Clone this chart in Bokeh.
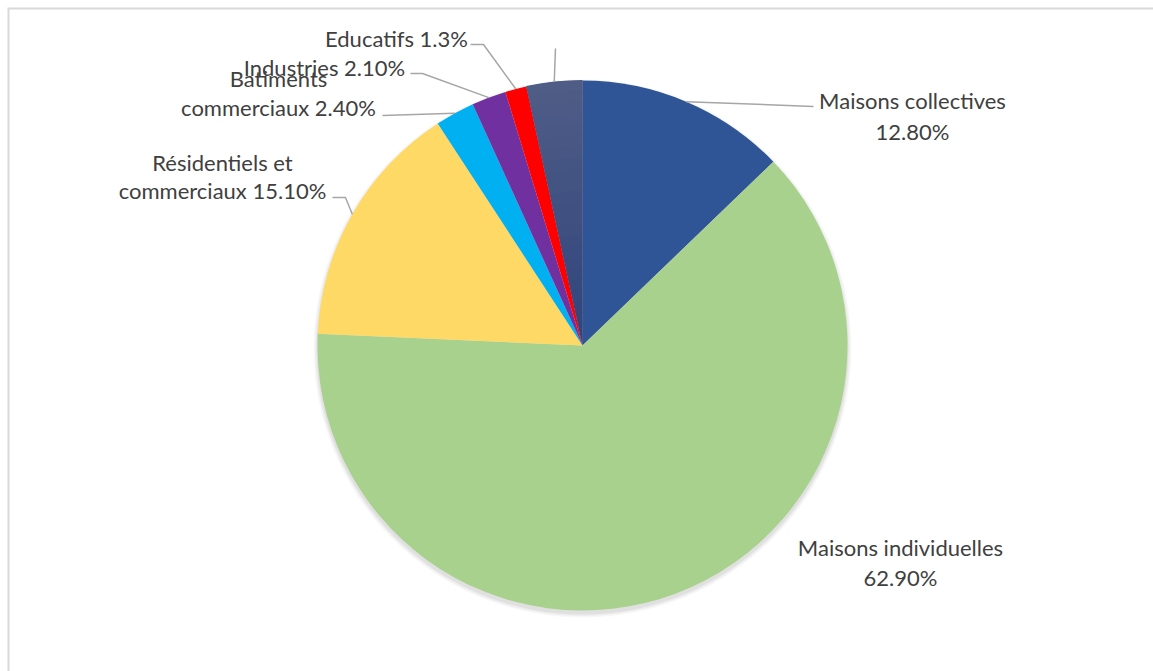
import math
from bokeh.plotting import figure
from bokeh.models import Range1d, ColumnDataSource
from bokeh.core.properties import value
from bokeh.embed import file_html
from bokeh.resources import INLINE

# ---- data ----
categories = ["Maisons collectives", "Maisons individuelles", "Résidentiels et commerciaux",
              "Batiments commerciaux", "Industries", "Educatifs", ""]
shares = [12.80, 62.90, 15.10, 2.40, 2.10, 1.30, 3.40]
label_lines = [["Maisons collectives", "12.80%"],
               ["Maisons individuelles", "62.90%"],
               ["Résidentiels et", "commerciaux 15.10%"],
               ["Batiments", "commerciaux 2.40%"],
               ["Industries 2.10%"],
               ["Educatifs 1.3%"],
               []]
colors = ["#2F5597", "#A9D18E", "#FFD966", "#00B0F0", "#7030A0", "#FF0000", "#3E5080"]

W, H = 1153, 671
FONT = "Lato"
FS = "22px"
TXT = "#404040"
LEAD = "#A6A6A6"


def px(x):
    return x


def py(y):
    return H - y


p = figure(width=W, height=H, output_backend="svg", toolbar_location=None,
           x_range=Range1d(0, W), y_range=Range1d(0, H), min_border=0)
p.axis.visible = False
p.grid.visible = False
p.outline_line_color = None
p.background_fill_color = "white"
p.border_fill_color = "white"

# chart frame (top and left edges visible)
p.segment(x0=[px(7), px(8)], y0=[py(8), py(8)], x1=[px(1153), px(8)], y1=[py(8), py(671)],
          line_color="#D9D9D9", line_width=2)

cx, cy, R = px(582), py(345), 265

# soft shadow
for i, a in enumerate([0.03, 0.04, 0.05]):
    p.circle(x=[cx], y=[cy - 3], radius=R + 4 - i * 1.5, fill_color="black",
             fill_alpha=a, line_color=None)

total = sum(shares)
starts, ends, mids = [], [], []
cum = 0.0
for s in shares:
    a0 = math.pi / 2 - 2 * math.pi * cum / total
    cum += s
    a1 = math.pi / 2 - 2 * math.pi * cum / total
    starts.append(a0)
    ends.append(a1)
    mids.append((a0 + a1) / 2)

src = ColumnDataSource(dict(start=starts, end=ends, color=colors, cat=categories))
p.wedge(x=cx, y=cy, radius=R, start_angle="start", end_angle="end", direction="clock",
        fill_color="color", line_color=None, source=src)

# gradient-like shading on the last slice (lighter towards the top)
last = len(shares) - 1
c0 = (0x30, 0x45, 0x7C)
c1 = (0x4F, 0x5C, 0x86)
N = 24
for k in range(N):
    t = (k + 0.5) / N
    rgb = tuple(int(round(c0[j] + (c1[j] - c0[j]) * t)) for j in range(3))
    col = "#%02X%02X%02X" % rgb
    p.annular_wedge(x=cx, y=cy, inner_radius=R * k / N, outer_radius=R * (k + 1) / N + 0.6,
                    start_angle=starts[last], end_angle=ends[last], direction="clock",
                    fill_color=col, line_color=None)


def edge(i):
    a = mids[i]
    return cx + R * math.cos(a), cy + R * math.sin(a)


# label layout (page px): center x, line y's, leader path ending at slice edge
layout = {
    0: (912, [100, 131], [(813, 106)]),
    1: (900, [547, 577], None),
    2: (222, [162, 190], [(332, 197), (345, 197)]),
    3: (278, [78, 107], [(382, 115)]),
    4: (324, [67], [(410, 73), (422, 73)]),
    5: (396, [38], [(470, 44), (483, 44)]),
    6: (None, [], [(555, 48)]),
}

for i in range(len(shares)):
    lx, ys, path = layout[i]
    if path is not None:
        xs = [px(x) for x, _ in path]
        yy = [py(y) for _, y in path]
        ex, ey = edge(i)
        xs.append(ex)
        yy.append(ey)
        p.line(xs, yy, line_color=LEAD, line_width=1.5)
    for t, y in zip(label_lines[i], ys):
        p.text(x=[px(lx)], y=[py(y)], text=[t], text_align="center", text_baseline="middle",
               text_font=value(FONT), text_font_size=FS, text_color=TXT)

html = file_html(p, INLINE)
open("out.html", "w").write(html)
